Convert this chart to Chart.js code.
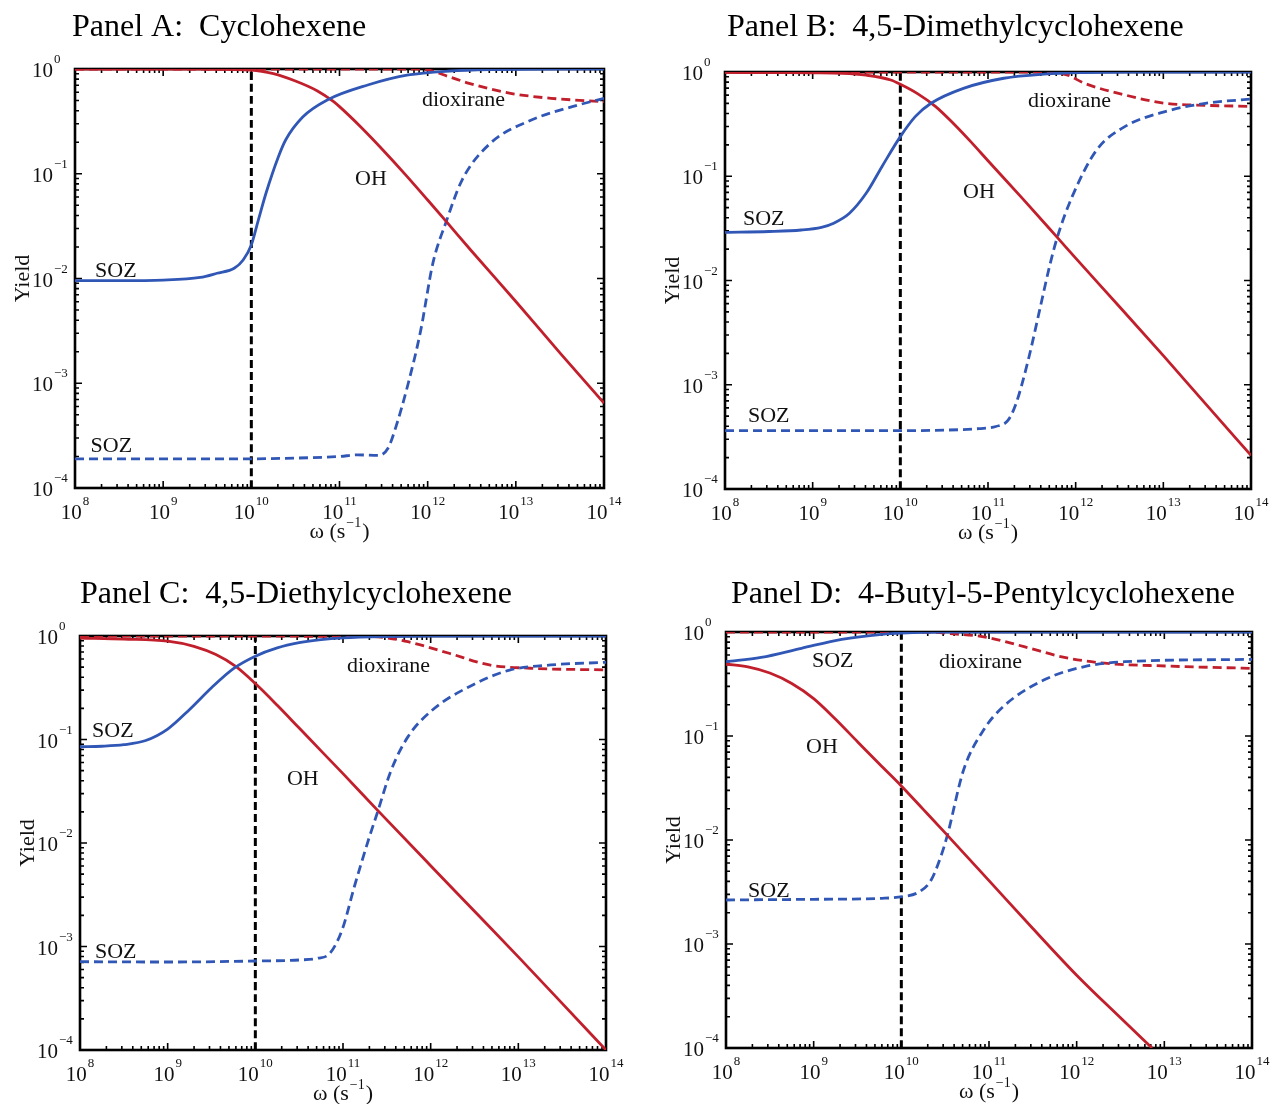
<!DOCTYPE html>
<html>
<head>
<meta charset="utf-8">
<script src="https://cdn.jsdelivr.net/npm/chart.js@4.4.1/dist/chart.umd.min.js"></script>
<style>
  html, body { margin: 0; padding: 0; background: #ffffff; }
  #wrap { position: relative; width: 1273px; height: 1104px; background: #ffffff; overflow: hidden; }
  canvas { position: absolute; }
</style>
</head>
<body>
<div id="wrap">
  <canvas id="cA" width="640" height="552" style="left:0px;top:0px"></canvas>
  <canvas id="cB" width="633" height="552" style="left:640px;top:0px"></canvas>
  <canvas id="cC" width="640" height="552" style="left:0px;top:552px"></canvas>
  <canvas id="cD" width="633" height="552" style="left:640px;top:552px"></canvas>
</div>
<script>
// ---------- axis ticks (exponents of 10) ----------
const xTickExponents = [8, 9, 10, 11, 12, 13, 14];
const yTickExponents = [0, -1, -2, -3, -4];
const markerOmega = 1e10;           // vertical dashed reference line

// ---------- Panel A: Cyclohexene (x = log10 omega, y = yield) ----------
const A_SOZ_w  = [8.0, 8.5, 9.0, 9.42, 9.61, 9.81, 9.907, 10.0, 10.08, 10.167, 10.306, 10.389, 10.583, 10.861, 11.32, 11.78, 12.25, 12.75, 13.5, 14.0];
const A_SOZ_y  = [0.00955, 0.00955, 0.00966, 0.01023, 0.01122, 0.01259, 0.01503, 0.0209, 0.0363, 0.0655, 0.1445, 0.21, 0.348, 0.506, 0.703, 0.877, 0.957, 0.989, 1.0, 1.0];
const A_OH_w   = [8.0, 9.0, 9.5, 10.0, 10.25, 10.5, 10.75, 10.93, 11.0, 11.25, 11.5, 11.75, 12.0, 12.21, 12.5, 13.0, 13.5, 14.0];
const A_OH_y   = [1.0, 1.0, 0.995, 0.977, 0.902, 0.767, 0.617, 0.490, 0.437, 0.275, 0.166, 0.0977, 0.0562, 0.0351, 0.0182, 0.00603, 0.00195, 0.000646];
const A_SOZd_w = [8.0, 9.0, 10.0, 10.5, 11.0, 11.2, 11.45, 11.55, 11.62, 11.78, 11.92, 12.06, 12.21, 12.39, 12.71, 13.17, 13.64, 14.0];
const A_SOZd_y = [0.00019, 0.00019, 0.00019, 0.000193, 0.0002, 0.000207, 0.000205, 0.00024, 0.00034, 0.001, 0.00316, 0.0141, 0.0348, 0.0871, 0.195, 0.324, 0.437, 0.525];
const A_DIOX_w = [8.0, 11.8, 12.0, 12.24, 12.47, 12.94, 13.4, 14.0];
const A_DIOX_y = [1.0, 1.0, 0.98, 0.845, 0.73, 0.586, 0.525, 0.488];

// ---------- Panel B: 4,5-Dimethylcyclohexene ----------
const B_SOZ_w  = [8.0, 8.5, 8.87, 9.1, 9.24, 9.42, 9.61, 9.79, 10.0, 10.17, 10.35, 10.72, 11.18, 11.64, 12.1, 12.6, 14.0];
const B_SOZ_y  = [0.029, 0.0295, 0.0305, 0.0324, 0.0355, 0.0442, 0.0686, 0.1236, 0.24, 0.373, 0.501, 0.697, 0.871, 0.955, 0.989, 1.0, 1.0];
const B_OH_w   = [8.0, 8.5, 9.0, 9.34, 9.61, 9.89, 10.0, 10.2, 10.4, 10.6, 10.8, 11.0, 11.4, 11.79, 12.0, 12.5, 13.0, 13.5, 14.0];
const B_OH_y   = [0.991, 0.986, 0.982, 0.973, 0.933, 0.838, 0.762, 0.617, 0.468, 0.324, 0.216, 0.141, 0.0603, 0.0259, 0.0164, 0.0056, 0.0019, 0.00063, 0.00021];
const B_SOZd_w = [8.0, 9.0, 10.0, 10.5, 10.9, 11.09, 11.23, 11.32, 11.46, 11.59, 11.71, 11.79, 11.96, 12.24, 12.56, 13.02, 13.48, 14.0];
const B_SOZd_y = [0.000363, 0.000363, 0.000363, 0.000367, 0.00038, 0.000398, 0.000457, 0.00066, 0.00174, 0.00525, 0.0146, 0.0259, 0.0637, 0.179, 0.299, 0.417, 0.501, 0.55];
const B_DIOX_w = [8.0, 11.7, 11.8, 11.91, 12.1, 12.56, 13.02, 13.48, 14.0];
const B_DIOX_y = [1.0, 1.0, 0.975, 0.933, 0.78, 0.603, 0.501, 0.479, 0.468];

// ---------- Panel C: 4,5-Diethylcyclohexene ----------
const C_SOZ_w  = [8.0, 8.25, 8.5, 8.75, 9.0, 9.25, 9.5, 9.75, 10.0, 10.25, 10.5, 10.75, 11.0, 11.5, 12.0, 14.0];
const C_SOZ_y  = [0.0851, 0.0861, 0.0891, 0.0977, 0.126, 0.195, 0.316, 0.484, 0.638, 0.767, 0.861, 0.923, 0.959, 0.989, 1.0, 1.0];
const C_OH_w   = [8.0, 8.5, 9.0, 9.3, 9.55, 9.78, 10.0, 10.25, 10.5, 10.75, 11.0, 11.39, 12.0, 12.5, 13.0, 13.5, 14.0];
const C_OH_y   = [0.955, 0.933, 0.891, 0.794, 0.661, 0.506, 0.347, 0.214, 0.129, 0.0776, 0.0468, 0.0209, 0.00603, 0.00219, 0.000794, 0.000282, 0.0001];
const C_SOZd_w = [8.0, 9.0, 10.0, 10.5, 10.71, 10.85, 10.99, 11.13, 11.29, 11.39, 11.55, 11.74, 12.02, 12.44, 12.9, 13.37, 14.0];
const C_SOZd_y = [0.000713, 0.000708, 0.000724, 0.000741, 0.000769, 0.000859, 0.00145, 0.0038, 0.0107, 0.0194, 0.0507, 0.106, 0.193, 0.324, 0.468, 0.525, 0.557];
const C_DIOX_w = [8.0, 11.3, 11.51, 11.74, 12.21, 12.67, 13.14, 14.0];
const C_DIOX_y = [1.0, 0.989, 0.955, 0.881, 0.681, 0.525, 0.488, 0.47];

// ---------- Panel D: 4-Butyl-5-Pentylcyclohexene ----------
const D_SOZ_w  = [8.0, 8.4, 8.86, 9.32, 9.78, 10.0, 10.5, 14.0];
const D_SOZ_y  = [0.518, 0.57, 0.697, 0.851, 0.951, 0.977, 1.0, 1.0];
const D_OH_w   = [8.0, 8.25, 8.5, 8.75, 9.0, 9.25, 9.5, 9.75, 10.0, 10.25, 10.5, 11.0, 11.5, 12.0, 12.5, 12.86];
const D_OH_y   = [0.49, 0.462, 0.403, 0.320, 0.229, 0.145, 0.0881, 0.0537, 0.0331, 0.0197, 0.0117, 0.00407, 0.00141, 0.000501, 0.000195, 0.0001];
const D_SOZd_w = [8.0, 9.0, 9.78, 10.01, 10.2, 10.34, 10.45, 10.52, 10.71, 10.94, 11.16, 11.63, 12.09, 12.55, 14.0];
const D_SOZd_y = [0.00265, 0.00269, 0.00275, 0.00285, 0.00316, 0.00412, 0.00692, 0.0107, 0.0471, 0.115, 0.191, 0.347, 0.465, 0.518, 0.546];
const D_DIOX_w = [8.0, 10.3, 10.6, 10.94, 11.4, 11.86, 12.32, 13.01, 14.0];
const D_DIOX_y = [1.0, 1.0, 0.96, 0.90, 0.723, 0.57, 0.501, 0.471, 0.447];

// ---------- curve labels: [text, log10 omega, log10 yield] (left / baseline) ----------
const A_notes = [['SOZ', 8.227, -1.986], ['OH', 11.176, -1.107], ['dioxirane', 11.935, -0.353], ['SOZ', 8.176, -3.656]];
const B_notes = [['SOZ', 8.205, -1.468], ['OH', 10.715, -1.209], ['dioxirane', 11.456, -0.336], ['SOZ', 8.262, -3.357]];
const C_notes = [['SOZ', 8.137, -0.976], ['OH', 10.361, -1.44], ['dioxirane', 11.046, -0.348], ['SOZ', 8.171, -3.111]];
const D_notes = [['SOZ', 8.981, -0.337], ['OH', 8.913, -1.163], ['dioxirane', 10.43, -0.346], ['SOZ', 8.251, -2.548]];

const titles = ['Panel A:  Cyclohexene', 'Panel B:  4,5-Dimethylcyclohexene',
                'Panel C:  4,5-Diethylcyclohexene', 'Panel D:  4-Butyl-5-Pentylcyclohexene'];
const yAxisTitle = 'Yield';

// ---------- styling ----------
const BLUE = '#3157b6';
const RED = '#c21f2c';
const SERIF = '"Liberation Serif", "Times New Roman", serif';

function pts(ws, ys) { return ws.map((w, i) => ({ x: Math.pow(10, w), y: ys[i] })); }

const panels = [
  { id: 'cA', pad: { left: 75, top: 69, right: 36, bottom: 64 }, title: titles[0], tx: 72, ty: 36,
    s: [A_SOZ_w, A_SOZ_y, A_OH_w, A_OH_y, A_SOZd_w, A_SOZd_y, A_DIOX_w, A_DIOX_y], notes: A_notes },
  { id: 'cB', pad: { left: 85, top: 72, right: 22, bottom: 63 }, title: titles[1], tx: 87, ty: 36,
    s: [B_SOZ_w, B_SOZ_y, B_OH_w, B_OH_y, B_SOZd_w, B_SOZd_y, B_DIOX_w, B_DIOX_y], notes: B_notes },
  { id: 'cC', pad: { left: 80, top: 84, right: 34, bottom: 54 }, title: titles[2], tx: 80, ty: 51,
    s: [C_SOZ_w, C_SOZ_y, C_OH_w, C_OH_y, C_SOZd_w, C_SOZd_y, C_DIOX_w, C_DIOX_y], notes: C_notes },
  { id: 'cD', pad: { left: 86, top: 80, right: 21, bottom: 56 }, title: titles[3], tx: 91, ty: 51,
    s: [D_SOZ_w, D_SOZ_y, D_OH_w, D_OH_y, D_SOZd_w, D_SOZd_y, D_DIOX_w, D_DIOX_y], notes: D_notes }
];

function supText(e) { return String(e).replace('-', '\u2212'); }

function makeFramePlugin(p) {
  return {
    id: 'frame_' + p.id,
    beforeDatasetsDraw(chart) {
      const ctx = chart.ctx, a = chart.chartArea, xs = chart.scales.x, ys = chart.scales.y;
      ctx.save();
      ctx.strokeStyle = '#000';
      ctx.lineWidth = 1.6;
      ctx.beginPath();
      for (let d = 8; d <= 14; d++) {
        for (let k = 1; k <= 9; k++) {
          const v = k * Math.pow(10, d);
          if (v > 1.0001e14) break;
          const px = xs.getPixelForValue(v);
          const len = k === 1 ? 7 : 4;
          ctx.moveTo(px, a.bottom); ctx.lineTo(px, a.bottom - len);
          ctx.moveTo(px, a.top); ctx.lineTo(px, a.top + len);
        }
      }
      for (let d = -4; d <= 0; d++) {
        for (let k = 1; k <= 9; k++) {
          const v = k * Math.pow(10, d);
          if (v > 1.0001) break;
          const py = ys.getPixelForValue(v);
          const len = k === 1 ? 7 : 4;
          ctx.moveTo(a.left, py); ctx.lineTo(a.left + len, py);
          ctx.moveTo(a.right, py); ctx.lineTo(a.right - len, py);
        }
      }
      ctx.stroke();
      ctx.lineWidth = 2.6;
      ctx.strokeRect(a.left, a.top, a.right - a.left, a.bottom - a.top);
      ctx.restore();
    },
    afterDraw(chart) {
      const ctx = chart.ctx, a = chart.chartArea, xs = chart.scales.x, ys = chart.scales.y;
      ctx.save();
      ctx.fillStyle = '#111';
      ctx.textBaseline = 'alphabetic';
      const big = '21px ' + SERIF, small = '13px ' + SERIF;
      // x tick labels
      xTickExponents.forEach(e => {
        const px = xs.getPixelForValue(Math.pow(10, e));
        ctx.font = big; const wb = ctx.measureText('10').width;
        ctx.font = small; const ws = ctx.measureText(supText(e)).width;
        const x0 = px - (wb + 1 + ws) / 2;
        const base = a.bottom + 31;
        ctx.textAlign = 'left';
        ctx.font = big; ctx.fillText('10', x0, base);
        ctx.font = small; ctx.fillText(supText(e), x0 + wb + 1, base - 14);
      });
      // y tick labels
      yTickExponents.forEach(e => {
        const py = ys.getPixelForValue(Math.pow(10, e));
        const base = py + 8;
        const xr = a.left - 22;
        ctx.font = big; ctx.textAlign = 'right'; ctx.fillText('10', xr, base);
        ctx.font = small; ctx.textAlign = 'left'; ctx.fillText(supText(e), xr + 1, base - 14);
      });
      // y axis title
      ctx.save();
      ctx.font = '22px ' + SERIF;
      ctx.translate(a.left - 46, (a.top + a.bottom) / 2);
      ctx.rotate(-Math.PI / 2);
      ctx.textAlign = 'center';
      ctx.fillText(yAxisTitle, 0, 0);
      ctx.restore();
      // x axis title: omega (s^-1)
      {
        const f = '22px ' + SERIF, fs = '14px ' + SERIF;
        ctx.font = f; const w1 = ctx.measureText('\u03c9 (s').width; const w3 = ctx.measureText(')').width;
        ctx.font = fs; const w2 = ctx.measureText('\u22121').width;
        const total = w1 + 1 + w2 + 1 + w3;
        const x0 = (a.left + a.right) / 2 - total / 2;
        const base = a.bottom + 50;
        ctx.textAlign = 'left';
        ctx.font = f; ctx.fillText('\u03c9 (s', x0, base);
        ctx.font = fs; ctx.fillText('\u22121', x0 + w1 + 1, base - 11);
        ctx.font = f; ctx.fillText(')', x0 + w1 + 1 + w2 + 1, base);
      }
      // curve labels
      ctx.font = '22px ' + SERIF;
      ctx.textAlign = 'left';
      p.notes.forEach(n => {
        ctx.fillText(n[0], xs.getPixelForValue(Math.pow(10, n[1])), ys.getPixelForValue(Math.pow(10, n[2])));
      });
      // panel title
      ctx.font = '32px ' + SERIF;
      ctx.fillStyle = '#000';
      ctx.fillText(p.title, p.tx, p.ty);
      ctx.restore();
    }
  };
}

panels.forEach(p => {
  const s = p.s;
  new Chart(document.getElementById(p.id), {
    type: 'line',
    data: {
      datasets: [
        { label: 'SOZ', data: pts(s[0], s[1]), borderColor: BLUE, borderWidth: 2.8 },
        { label: 'OH', data: pts(s[2], s[3]), borderColor: RED, borderWidth: 2.8 },
        { label: 'SOZ (dioxirane)', data: pts(s[4], s[5]), borderColor: BLUE, borderWidth: 2.8, borderDash: [9, 5] },
        { label: 'dioxirane', data: pts(s[6], s[7]), borderColor: RED, borderWidth: 2.8, borderDash: [9, 5] },
        { label: 'marker', data: [{ x: markerOmega, y: 1e-4 }, { x: markerOmega, y: 1 }], borderColor: '#000', borderWidth: 3, borderDash: [8, 4] }
      ]
    },
    options: {
      responsive: false,
      animation: false,
      devicePixelRatio: 1,
      layout: { padding: p.pad },
      plugins: { legend: { display: false }, tooltip: { enabled: false }, title: { display: false } },
      elements: { point: { radius: 0 }, line: { cubicInterpolationMode: 'monotone', fill: false } },
      scales: {
        x: { type: 'logarithmic', min: 1e8, max: 1e14, display: false },
        y: { type: 'logarithmic', min: 1e-4, max: 1, display: false }
      }
    },
    plugins: [makeFramePlugin(p)]
  });
});
</script>
</body>
</html>
